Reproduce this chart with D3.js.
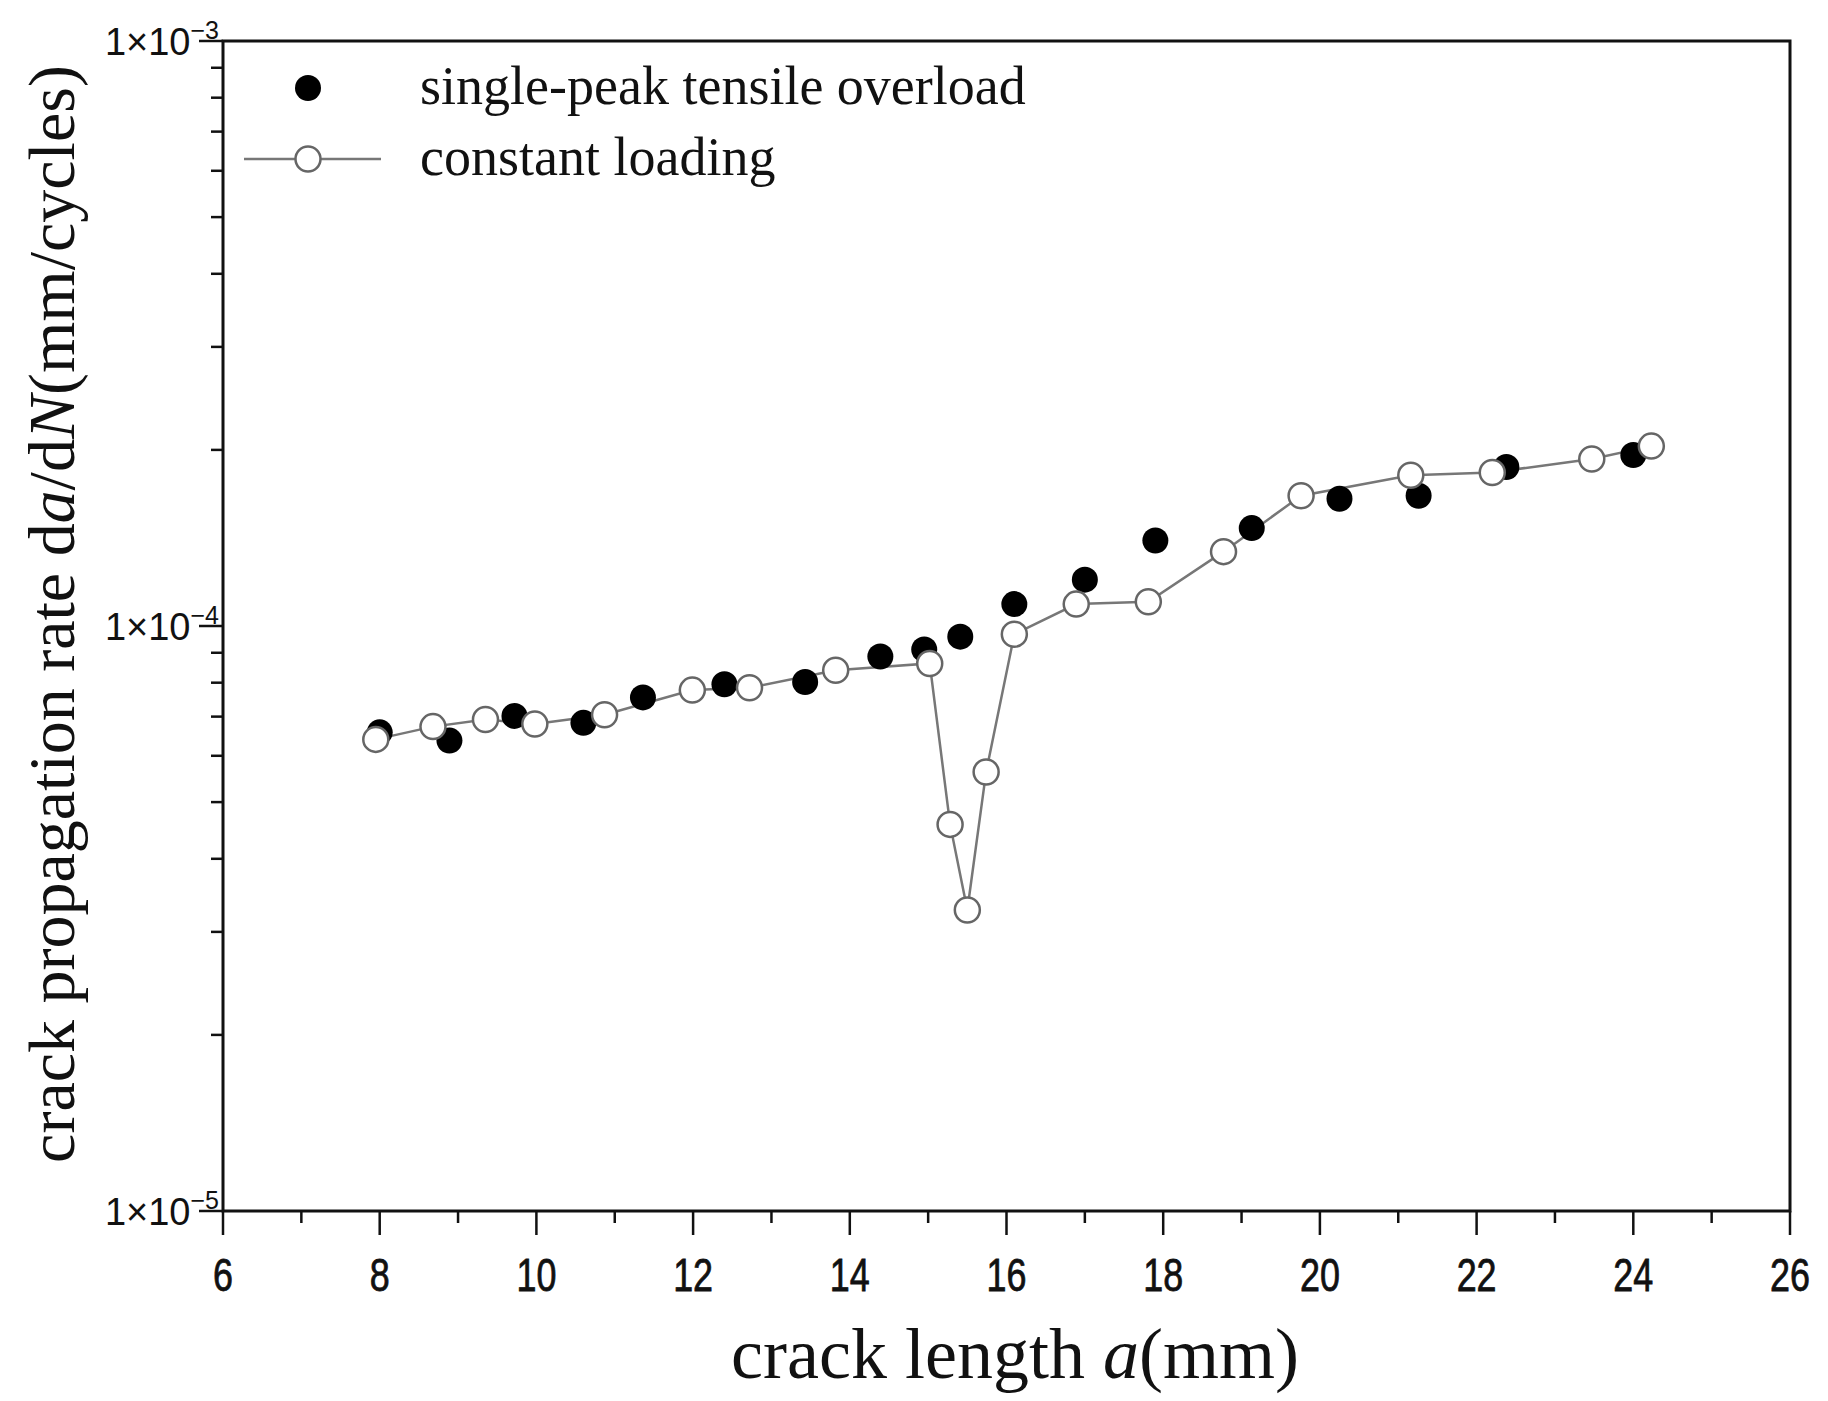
<!DOCTYPE html>
<html><head><meta charset="utf-8">
<script src="https://cdn.jsdelivr.net/npm/d3@7"></script>
<style>body{margin:0;background:#fff}</style>
</head><body>
<svg id="chart" width="1828" height="1401"></svg>
<script>
// ========= Data
const overloadA = [8.0, 8.89, 9.72, 10.6, 11.36, 12.4, 13.43, 14.39, 14.95, 15.41, 16.1, 17.0, 17.9, 19.13, 20.25, 21.26, 22.38, 24.0];
const overloadRate = [6.58e-5, 6.37e-5, 7.02e-5, 6.83e-5, 7.55e-5, 7.95e-5, 8.02e-5, 8.87e-5, 9.12e-5, 9.59e-5, 1.09e-4, 1.20e-4, 1.40e-4, 1.47e-4, 1.65e-4, 1.67e-4, 1.87e-4, 1.96e-4];
const constantA = [7.95, 8.68, 9.35, 9.98, 10.87, 11.99, 12.72, 13.82, 15.02, 15.28, 15.5, 15.74, 16.1, 16.89, 17.81, 18.77, 19.76, 21.16, 22.2, 23.47, 24.23];
const constantRate = [6.40e-5, 6.73e-5, 6.92e-5, 6.80e-5, 7.05e-5, 7.77e-5, 7.84e-5, 8.40e-5, 8.63e-5, 4.58e-5, 3.27e-5, 5.63e-5, 9.68e-5, 1.09e-4, 1.10e-4, 1.34e-4, 1.67e-4, 1.81e-4, 1.83e-4, 1.93e-4, 2.03e-4];
const xTicks = [6, 8, 10, 12, 14, 16, 18, 20, 22, 24, 26];
const yTicks = [{ v: 1e-3, e: "−3" }, { v: 1e-4, e: "−4" }, { v: 1e-5, e: "−5" }];

const svg = d3.select("#chart");
const m = { l: 223, r: 1790, t: 41, b: 1211 };
const x = d3.scaleLinear().domain([6, 26]).range([m.l, m.r]);
const y = d3.scaleLog().domain([1e-5, 1e-3]).range([m.b, m.t]);

// frame
svg.append("rect").attr("x", m.l).attr("y", m.t).attr("width", m.r - m.l).attr("height", m.b - m.t)
    .attr("fill", "none").attr("stroke", "#111").attr("stroke-width", 3);

// x ticks
const xMinor = d3.range(6, 27, 1);
svg.selectAll("line.xt").data(xMinor).enter().append("line")
    .attr("x1", d => x(d)).attr("x2", d => x(d))
    .attr("y1", m.b).attr("y2", d => m.b + (d % 2 === 0 ? 24 : 12))
    .attr("stroke", "#111").attr("stroke-width", 2.5);
svg.selectAll("text.xl").data(xTicks).enter().append("text")
    .attr("transform", d => `translate(${x(d)},${m.b + 80}) scale(0.78,1)`)
    .attr("text-anchor", "middle").attr("font-family", "Liberation Sans, Arial")
    .attr("font-size", 46).attr("fill", "#111").attr("stroke", "#111").attr("stroke-width", 0.8).text(d => d);

// y ticks (log minors)
const yMinor = [];
[1e-5, 1e-4].forEach(base => d3.range(1, 10).forEach(k => yMinor.push(base * k)));
yMinor.push(1e-3);
svg.selectAll("line.yt").data(yMinor).enter().append("line")
    .attr("x1", m.l).attr("x2", d => m.l - (Math.abs(Math.log10(d) - Math.round(Math.log10(d))) < 1e-9 ? 24 : 12))
    .attr("y1", d => y(d)).attr("y2", d => y(d))
    .attr("stroke", "#111").attr("stroke-width", 2.5);
const yl = svg.selectAll("text.yl").data(yTicks).enter().append("text")
    .attr("x", m.l - 4).attr("y", d => y(d.v) + 14)
    .attr("text-anchor", "end").attr("font-family", "Liberation Sans, Arial")
    .attr("font-size", 38).attr("fill", "#111");
yl.append("tspan").text("1\u00d710");
yl.append("tspan").attr("dy", -16).attr("font-size", 25).text(d => d.e);

// constant loading line + open markers
const line = d3.line().x((d, i) => x(constantA[i])).y(d => y(d));
svg.append("path").datum(constantRate).attr("d", line)
    .attr("fill", "none").attr("stroke", "#777").attr("stroke-width", 2.5);

// filled markers
svg.selectAll("circle.f").data(overloadRate).enter().append("circle")
    .attr("cx", (d, i) => x(overloadA[i])).attr("cy", d => y(d)).attr("r", 13).attr("fill", "#000");

svg.selectAll("circle.o").data(constantRate).enter().append("circle")
    .attr("cx", (d, i) => x(constantA[i])).attr("cy", d => y(d)).attr("r", 12.5)
    .attr("fill", "#fff").attr("stroke", "#666").attr("stroke-width", 2.5);

// legend
svg.append("circle").attr("cx", 308).attr("cy", 88).attr("r", 13).attr("fill", "#000");
svg.append("line").attr("x1", 244).attr("x2", 381).attr("y1", 159).attr("y2", 159).attr("stroke", "#777").attr("stroke-width", 2.5);
svg.append("circle").attr("cx", 308).attr("cy", 159).attr("r", 12.5).attr("fill", "#fff").attr("stroke", "#666").attr("stroke-width", 2.5);
const legTxt = ["single-peak tensile overload", "constant loading"];
svg.selectAll("text.lg").data(legTxt).enter().append("text")
    .attr("x", 420).attr("y", (d, i) => [104, 175][i])
    .attr("font-family", "Liberation Serif, Times New Roman").attr("font-size", 54).attr("fill", "#111").text(d => d);

// axis titles
const xt = svg.append("text").attr("x", 1015).attr("y", 1378).attr("text-anchor", "middle")
    .attr("font-family", "Liberation Serif, Times New Roman").attr("font-size", 72).attr("fill", "#111");
xt.append("tspan").text("crack length ");
xt.append("tspan").attr("font-style", "italic").text("a");
xt.append("tspan").text("(mm)");

const ytl = svg.append("text").attr("transform", `translate(74,${(m.t + m.b) / 2 - 12}) rotate(-90)`)
    .attr("text-anchor", "middle").attr("font-family", "Liberation Serif, Times New Roman")
    .attr("font-size", 66).attr("fill", "#111");
ytl.append("tspan").text("crack propagation rate  d");
ytl.append("tspan").attr("font-style", "italic").text("a");
ytl.append("tspan").text("/d");
ytl.append("tspan").attr("font-style", "italic").text("N");
ytl.append("tspan").text("(mm/cycles)");
</script>
</body></html>
